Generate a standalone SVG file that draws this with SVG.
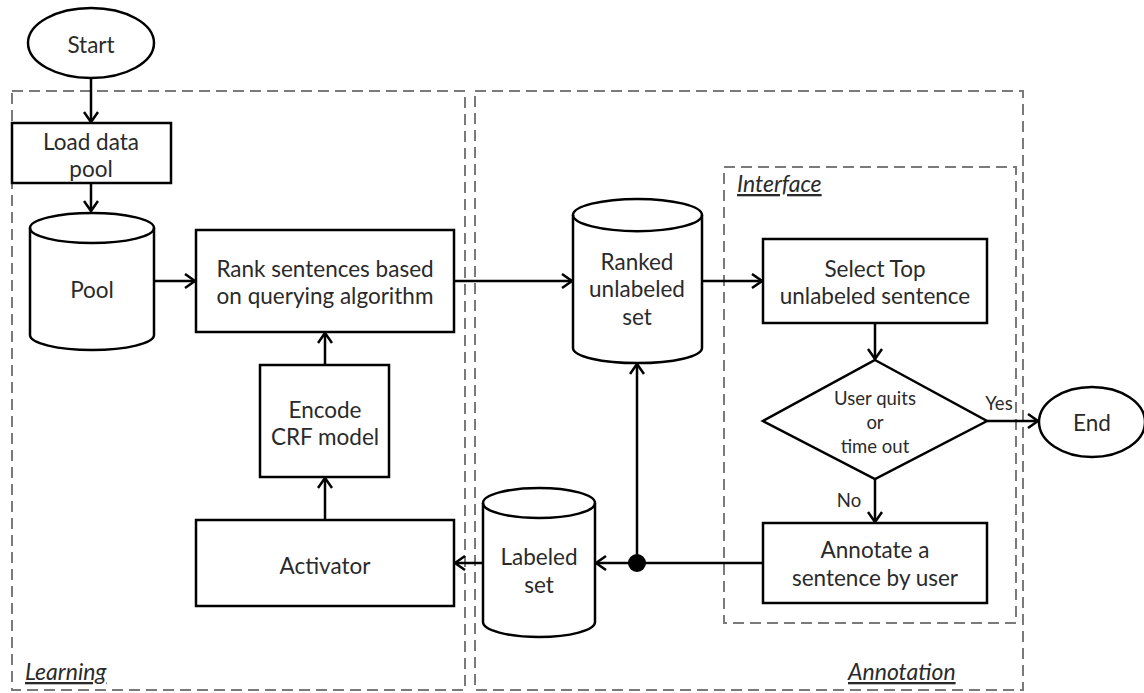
<svg xmlns="http://www.w3.org/2000/svg" width="1144" height="693" viewBox="0 0 1144 693">
  <style>
    .shape { fill: #ffffff; stroke: #000000; stroke-width: 2.5; }
    .edge { fill: none; stroke: #000000; stroke-width: 2.5; }
    .region { fill: none; stroke: #7a7a7a; stroke-width: 2; stroke-dasharray: 11 6; }
    text { font-family: Lato, "Liberation Sans", sans-serif; fill: #2a2a2a; text-anchor: middle; }
    .lbl { font-size: 22.5px; }
    .small { font-size: 18.5px; }
    .area { font-size: 23px; font-style: italic; text-decoration: underline; text-anchor: start; }
  </style>
  <defs>
    <marker id="arrow" markerWidth="14" markerHeight="16" refX="11" refY="8" orient="auto" markerUnits="userSpaceOnUse">
      <path d="M1,1 L11,8 L1,15" fill="none" stroke="#000000" stroke-width="2.5"/>
    </marker>
  </defs>

  <!-- dashed regions -->
  <g id="regions">
    <rect class="region" x="12" y="91" width="453" height="599"/>
    <rect class="region" x="475" y="91" width="548" height="599"/>
    <rect class="region" x="724" y="167" width="292" height="456"/>
    <text class="area" x="25" y="680">Learning</text>
    <text class="area" x="848" y="680">Annotation</text>
    <text class="area" x="737" y="192">Interface</text>
  </g>

  <!-- connectors -->
  <g id="connectors">
    <line class="edge" x1="91" y1="78" x2="91" y2="122" marker-end="url(#arrow)"/>
    <line class="edge" x1="91" y1="183" x2="91" y2="211" marker-end="url(#arrow)"/>
    <line class="edge" x1="154" y1="281" x2="195" y2="281" marker-end="url(#arrow)"/>
    <line class="edge" x1="454" y1="281" x2="572" y2="281" marker-end="url(#arrow)"/>
    <line class="edge" x1="702" y1="281" x2="762" y2="281" marker-end="url(#arrow)"/>
    <line class="edge" x1="875" y1="323" x2="875" y2="359" marker-end="url(#arrow)"/>
    <line class="edge" x1="987" y1="421" x2="1038" y2="421" marker-end="url(#arrow)"/>
    <line class="edge" x1="875" y1="479" x2="875" y2="522" marker-end="url(#arrow)"/>
    <line class="edge" x1="763" y1="563" x2="596" y2="563" marker-end="url(#arrow)"/>
    <line class="edge" x1="637" y1="563" x2="637" y2="364" marker-end="url(#arrow)"/>
    <line class="edge" x1="483" y1="563" x2="455" y2="563" marker-end="url(#arrow)"/>
    <line class="edge" x1="325" y1="520" x2="325" y2="478" marker-end="url(#arrow)"/>
    <line class="edge" x1="325" y1="365" x2="325" y2="333" marker-end="url(#arrow)"/>
    <circle cx="637" cy="563" r="9" fill="#000000"/>
  </g>

  <g id="start">
    <ellipse class="shape" cx="91" cy="43" rx="63" ry="35"/>
    <text class="lbl" x="91" y="53">Start</text>
  </g>

  <g id="load-data-pool">
    <rect class="shape" x="12" y="123" width="159" height="60"/>
    <text class="lbl" x="91" y="150">Load data</text>
    <text class="lbl" x="91" y="177">pool</text>
  </g>

  <g id="pool">
    <path class="shape" d="M30,228 A62,15 0 0 1 154,228 L154,335 A62,15 0 0 1 30,335 Z"/>
    <path class="edge" d="M30,228 A62,15 0 0 0 154,228"/>
    <text class="lbl" x="92" y="298">Pool</text>
  </g>

  <g id="rank-sentences">
    <rect class="shape" x="196" y="230" width="258" height="102"/>
    <text class="lbl" x="325" y="277">Rank sentences based</text>
    <text class="lbl" x="325" y="304">on querying algorithm</text>
  </g>

  <g id="encode-crf">
    <rect class="shape" x="260" y="365" width="129" height="112"/>
    <text class="lbl" x="325" y="418">Encode</text>
    <text class="lbl" x="325" y="445">CRF model</text>
  </g>

  <g id="activator">
    <rect class="shape" x="196" y="520" width="258" height="86"/>
    <text class="lbl" x="325" y="574">Activator</text>
  </g>

  <g id="ranked-unlabeled-set">
    <path class="shape" d="M573,215 A64,16 0 0 1 702,215 L702,348 A64,15 0 0 1 573,348 Z"/>
    <path class="edge" d="M573,215 A64,16 0 0 0 702,215"/>
    <text class="lbl" x="637" y="270">Ranked</text>
    <text class="lbl" x="637" y="297">unlabeled</text>
    <text class="lbl" x="637" y="325">set</text>
  </g>

  <g id="labeled-set">
    <path class="shape" d="M483,503 A56,15 0 0 1 595,503 L595,622 A56,15 0 0 1 483,622 Z"/>
    <path class="edge" d="M483,503 A56,15 0 0 0 595,503"/>
    <text class="lbl" x="539" y="565">Labeled</text>
    <text class="lbl" x="539" y="593">set</text>
  </g>

  <g id="select-top">
    <rect class="shape" x="763" y="239" width="224" height="84"/>
    <text class="lbl" x="875" y="277">Select Top</text>
    <text class="lbl" x="875" y="304">unlabeled sentence</text>
  </g>

  <g id="user-quits">
    <polygon class="shape" points="875,360 987,421 875,479 763,421"/>
    <text class="small" x="875" y="405">User quits</text>
    <text class="small" x="875" y="429">or</text>
    <text class="small" x="875" y="453">time out</text>
    <text class="small" x="999" y="410">Yes</text>
    <text class="small" x="849" y="507">No</text>
  </g>

  <g id="end">
    <ellipse class="shape" cx="1092" cy="422" rx="53" ry="35"/>
    <text class="lbl" x="1092" y="431">End</text>
  </g>

  <g id="annotate">
    <rect class="shape" x="763" y="523" width="224" height="80"/>
    <text class="lbl" x="875" y="558">Annotate a</text>
    <text class="lbl" x="875" y="586">sentence by user</text>
  </g>
</svg>
